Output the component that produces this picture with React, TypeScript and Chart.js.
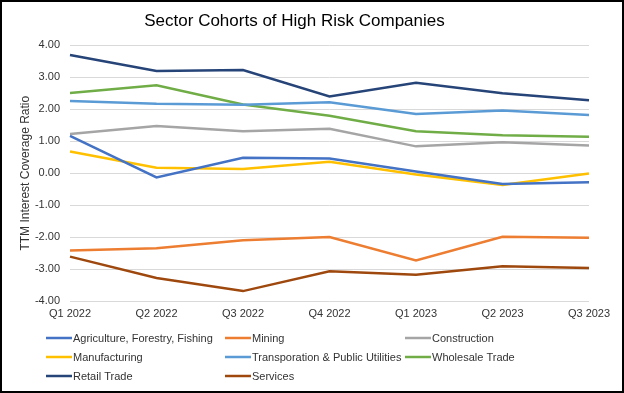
import React, { useEffect, useRef } from "react";
import { Chart, registerables } from "chart.js";

Chart.register(...registerables);

const categories = ["Q1 2022", "Q2 2022", "Q3 2022", "Q4 2022", "Q1 2023", "Q2 2023", "Q3 2023"];

const agriculture = [1.17, -0.13, 0.48, 0.46, 0.05, -0.34, -0.28];
const mining = [-2.42, -2.35, -2.1, -2.0, -2.73, -1.99, -2.02];
const construction = [1.23, 1.48, 1.31, 1.39, 0.84, 0.97, 0.87];
const manufacturing = [0.68, 0.17, 0.13, 0.36, -0.04, -0.37, -0.01];
const transportation = [2.26, 2.17, 2.14, 2.22, 1.85, 1.96, 1.82];
const wholesale = [2.51, 2.75, 2.15, 1.8, 1.31, 1.19, 1.14];
const retail = [3.7, 3.2, 3.23, 2.4, 2.83, 2.5, 2.28];
const services = [-2.61, -3.28, -3.69, -3.07, -3.18, -2.91, -2.97];

const seriesNames = [
  "Agriculture, Forestry, Fishing",
  "Mining",
  "Construction",
  "Manufacturing",
  "Transporation & Public Utilities",
  "Wholesale Trade",
  "Retail Trade",
  "Services",
];
const seriesValues = [agriculture, mining, construction, manufacturing, transportation, wholesale, retail, services];
const seriesColors = ["#4472C4", "#ED7D31", "#A5A5A5", "#FFC000", "#5B9BD5", "#70AD47", "#264478", "#9E480E"];

const FONT = "'Liberation Sans', Arial, sans-serif";

const frameBg = {
  id: "frameBg",
  beforeDraw(chart: any) {
    const { ctx, width, height } = chart;
    ctx.save();
    ctx.fillStyle = "#ffffff";
    ctx.fillRect(0, 0, width, height);
    ctx.restore();
  },
  afterDraw(chart: any) {
    const { ctx, width, height } = chart;
    ctx.save();
    ctx.strokeStyle = "#000000";
    ctx.lineWidth = 2;
    ctx.strokeRect(1, 1, width - 2, height - 2);
    ctx.restore();
  },
};

const colLegend = {
  id: "colLegend",
  afterDraw(chart: any) {
    const { ctx } = chart;
    const colX = [46, 225, 405];
    const rowY = [338, 357, 376];
    ctx.save();
    ctx.font = `11px ${FONT}`;
    ctx.textBaseline = "middle";
    ctx.textAlign = "left";
    chart.data.datasets.forEach((ds: any, i: number) => {
      const x = colX[i % 3];
      const y = rowY[Math.floor(i / 3)];
      ctx.strokeStyle = ds.borderColor;
      ctx.lineWidth = 2.5;
      ctx.beginPath();
      ctx.moveTo(x, y);
      ctx.lineTo(x + 26, y);
      ctx.stroke();
      ctx.fillStyle = "#333333";
      ctx.fillText(ds.label, x + 27, y + 0.5);
    });
    ctx.restore();
  },
};

export default function App() {
  const ref = useRef<HTMLCanvasElement>(null);
  useEffect(() => {
    if (!ref.current) return;
    const chart = new Chart(ref.current, {
      type: "line",
      data: {
        labels: categories,
        datasets: seriesNames.map((name, i) => ({
          label: name,
          data: seriesValues[i],
          borderColor: seriesColors[i],
          backgroundColor: seriesColors[i],
          borderWidth: 2.5,
          pointRadius: 0,
          tension: 0,
          fill: false,
        })),
      },
      options: {
        animation: false,
        responsive: false,
        devicePixelRatio: 1,
        layout: { padding: { left: 0, right: 35, top: 0, bottom: 72 } },
        plugins: {
          legend: { display: false },
          tooltip: { enabled: false },
          title: {
            display: true,
            text: "Sector Cohorts of High Risk Companies",
            color: "#000000",
            font: { family: FONT, size: 17, weight: "normal" },
            padding: { top: 11, bottom: 14 },
            fullSize: true,
          },
        },
        scales: {
          x: {
            type: "category",
            offset: false,
            grid: { display: false, drawTicks: false },
            border: { display: false },
            ticks: {
              color: "#333333",
              font: { family: FONT, size: 11 },
              padding: 6,
              maxRotation: 0,
              autoSkip: false,
            },
            afterFit(scale: any) {
              scale.height = 20;
            },
          },
          y: {
            min: -4,
            max: 4,
            grid: { color: "#d9d9d9", lineWidth: 1, drawTicks: false },
            border: { display: false },
            ticks: {
              stepSize: 1,
              color: "#333333",
              font: { family: FONT, size: 11 },
              padding: 10,
              callback: (v: any) => Number(v).toFixed(2),
            },
            title: {
              display: true,
              text: "TTM Interest Coverage Ratio",
              color: "#333333",
              font: { family: FONT, size: 12 },
              padding: { top: 18, bottom: 0 },
            },
            afterFit(scale: any) {
              scale.width = 70;
            },
          },
        },
      },
      plugins: [frameBg, colLegend],
    });
    return () => chart.destroy();
  }, []);
  return (
    <div style={{ position: "absolute", left: 0, top: 0, width: 624, height: 393 }}>
      <canvas ref={ref} width={624} height={393} style={{ width: 624, height: 393, display: "block" }} />
    </div>
  );
}
